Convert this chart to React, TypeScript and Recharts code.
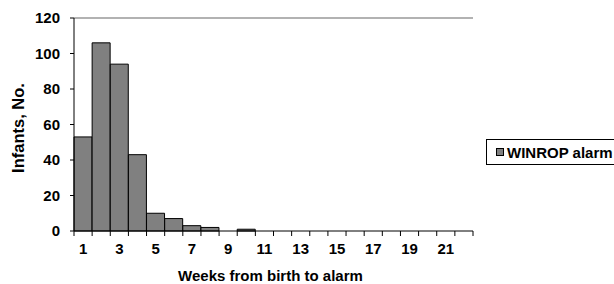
import React from "react";
import { BarChart, Bar, XAxis, YAxis, ReferenceLine } from "recharts";

const weeks = [1, 2, 3, 4, 5, 6, 7, 8, 9, 10, 11, 12, 13, 14, 15, 16, 17, 18, 19, 20, 21, 22];
const alarms = [53, 106, 94, 43, 10, 7, 3, 2, 0, 1, 0, 0, 0, 0, 0, 0, 0, 0, 0, 0, 0, 0];
const yTicks = [0, 20, 40, 60, 80, 100, 120];
const seriesName = "WINROP alarm";

const data = weeks.map((w, i) => ({ week: w, value: alarms[i] }));

const W = 614;
const H = 284;
const PLOT_LEFT = 74;
const PLOT_RIGHT = 473;
const BW = (PLOT_RIGHT - PLOT_LEFT) / weeks.length;
const FONT = "'Liberation Sans', Arial, sans-serif";

const XTick = (props: any) => {
  const { x, y, payload, index } = props;
  const left = x - BW / 2;
  const showLabel = payload.value % 2 === 1;
  return (
    <g>
      <line x1={left} y1={y} x2={left} y2={y + 5} stroke="#000" strokeWidth={1} />
      {index === weeks.length - 1 && (
        <line x1={x + BW / 2} y1={y} x2={x + BW / 2} y2={y + 5} stroke="#000" strokeWidth={1} />
      )}
      {showLabel && (
        <text x={x} y={y + 23} textAnchor="middle" fontFamily={FONT} fontWeight="bold" fontSize={15} fill="#000">
          {payload.value}
        </text>
      )}
    </g>
  );
};

const LegendBox = () => (
  <div
    style={{
      position: "absolute",
      left: 486,
      top: 139,
      border: "1px solid #000",
      width: 140,
      height: 26,
      boxSizing: "border-box",
      display: "flex",
      alignItems: "center",
      paddingLeft: 9,
      fontFamily: FONT,
      fontWeight: "bold",
      fontSize: 15,
      whiteSpace: "nowrap",
      background: "#fff",
    }}
  >
    <span
      style={{
        display: "inline-block",
        width: 6,
        height: 6,
        background: "#808080",
        border: "1px solid #000",
        marginRight: 3,
      }}
    />
    <span>{seriesName}</span>
  </div>
);

export default function App() {
  return (
    <div style={{ position: "absolute", left: 0, top: 0, width: W, height: H, background: "#fff", overflow: "hidden" }}>
      <BarChart
        width={W}
        height={H}
        data={data}
        margin={{ top: 18, right: W - PLOT_RIGHT, bottom: 0, left: 0 }}
        barCategoryGap={0}
      >
        <XAxis
          dataKey="week"
          interval={0}
          tickLine={false}
          tickSize={0}
          tickMargin={0}
          axisLine={{ stroke: "#000", strokeWidth: 1 }}
          tick={<XTick />}
          height={53}
          label={{
            value: "Weeks from birth to alarm",
            position: "insideBottom",
            offset: 3,
            dx: -3,
            fontFamily: FONT,
            fontWeight: "bold",
            fontSize: 15,
            fill: "#000",
          }}
        />
        <YAxis
          width={PLOT_LEFT}
          domain={[0, 120]}
          ticks={yTicks}
          interval={0}
          tickSize={4}
          tickMargin={10}
          tickLine={{ stroke: "#000" }}
          axisLine={{ stroke: "#000", strokeWidth: 1 }}
          tick={{ fontFamily: FONT, fontWeight: "bold", fontSize: 15, fill: "#000" }}
          label={{
            content: () => (
              <text
                x={18}
                y={128}
                transform="rotate(-90 18 128)"
                textAnchor="middle"
                dominantBaseline="central"
                fontFamily={FONT}
                fontWeight="bold"
                fontSize={16.5}
                fill="#000"
              >
                Infants, No.
              </text>
            ),
          }}
        />
        <YAxis
          yAxisId="right"
          orientation="right"
          width={0}
          domain={[0, 120]}
          tick={false}
          tickLine={false}
          axisLine={{ stroke: "#999", strokeWidth: 1.5 }}
        />
        <ReferenceLine y={120} stroke="#999" strokeWidth={1.5} />
        <Bar dataKey="value" name={seriesName} fill="#808080" stroke="#000" strokeWidth={1} isAnimationActive={false} />
      </BarChart>
      <LegendBox />
    </div>
  );
}
